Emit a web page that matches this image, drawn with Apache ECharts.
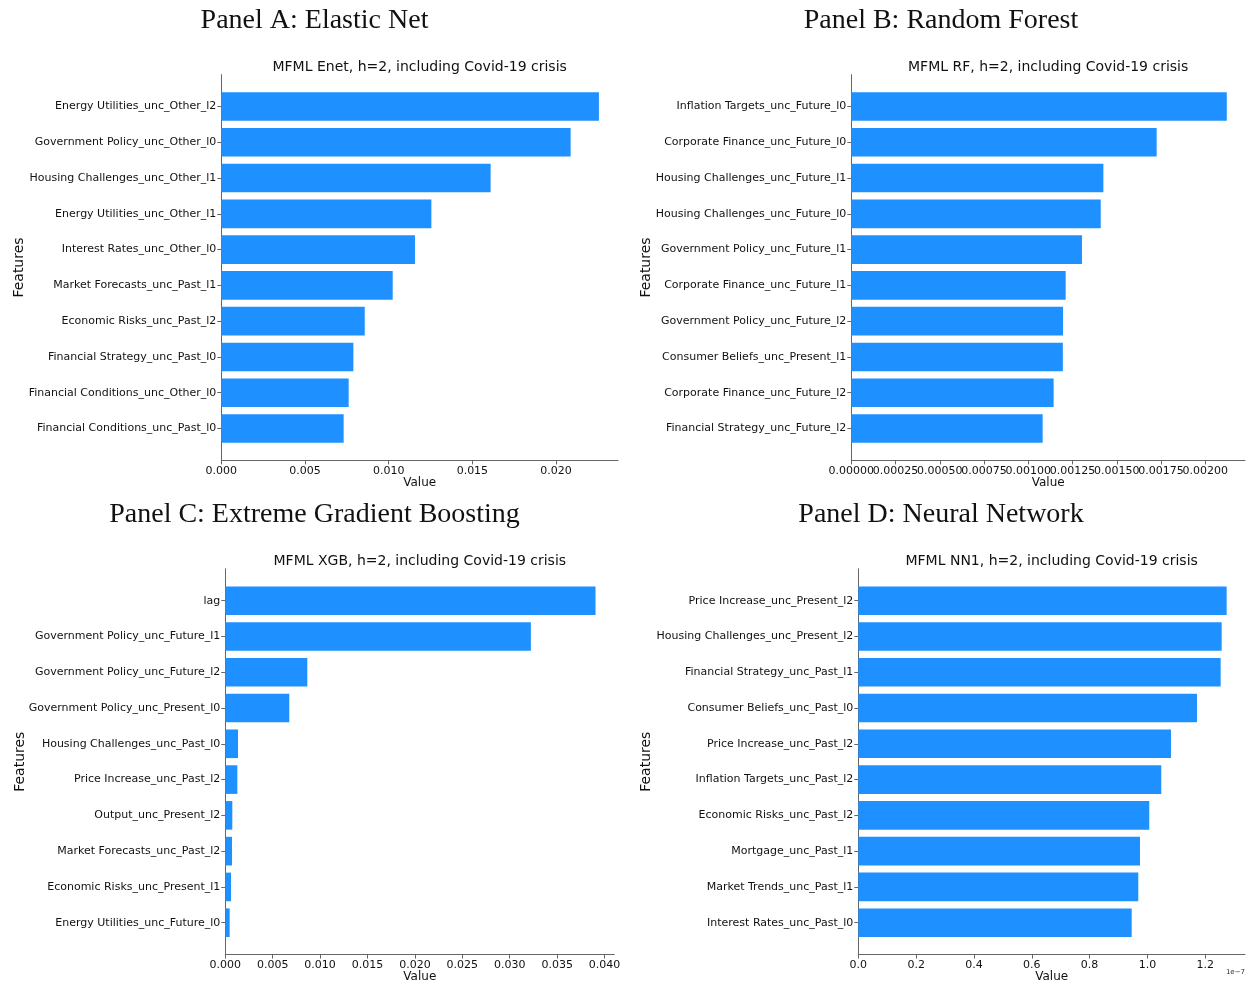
<!DOCTYPE html>
<html>
<head>
<meta charset="utf-8">
<script src="https://cdn.jsdelivr.net/npm/echarts@6/dist/echarts.min.js"></script>
<style>
  html, body { margin: 0; padding: 0; background: #fff; }
  #chart { width: 1249px; height: 985px; }
</style>
</head>
<body>
<div id="chart"></div>
<script>
// feature importances, top bar first
const enetFeatures = [
  "Energy Utilities_unc_Other_l2", "Government Policy_unc_Other_l0", "Housing Challenges_unc_Other_l1",
  "Energy Utilities_unc_Other_l1", "Interest Rates_unc_Other_l0", "Market Forecasts_unc_Past_l1",
  "Economic Risks_unc_Past_l2", "Financial Strategy_unc_Past_l0", "Financial Conditions_unc_Other_l0",
  "Financial Conditions_unc_Past_l0",
];
const enetValues = [0.02256, 0.02087, 0.01609, 0.01255, 0.01157, 0.01024, 0.00857, 0.00789, 0.00761, 0.00731];
const enetTicks = [0, 0.005, 0.01, 0.015, 0.02];

const rfFeatures = [
  "Inflation Targets_unc_Future_l0", "Corporate Finance_unc_Future_l0", "Housing Challenges_unc_Future_l1",
  "Housing Challenges_unc_Future_l0", "Government Policy_unc_Future_l1", "Corporate Finance_unc_Future_l1",
  "Government Policy_unc_Future_l2", "Consumer Beliefs_unc_Present_l1", "Corporate Finance_unc_Future_l2",
  "Financial Strategy_unc_Future_l2",
];
const rfValues = [0.002121, 0.001725, 0.001424, 0.001409, 0.001303, 0.001211, 0.001196, 0.001195, 0.001143, 0.001081];
const rfTicks = [0, 0.00025, 0.0005, 0.00075, 0.001, 0.00125, 0.0015, 0.00175, 0.002];

const xgbFeatures = [
  "lag", "Government Policy_unc_Future_l1", "Government Policy_unc_Future_l2",
  "Government Policy_unc_Present_l0", "Housing Challenges_unc_Past_l0", "Price Increase_unc_Past_l2",
  "Output_unc_Present_l2", "Market Forecasts_unc_Past_l2", "Economic Risks_unc_Present_l1",
  "Energy Utilities_unc_Future_l0",
];
const xgbValues = [0.03905, 0.03223, 0.00865, 0.00675, 0.00134, 0.00127, 0.00074, 0.00071, 0.0006, 0.00046];
const xgbTicks = [0, 0.005, 0.01, 0.015, 0.02, 0.025, 0.03, 0.035, 0.04];

const nnFeatures = [
  "Price Increase_unc_Present_l2", "Housing Challenges_unc_Present_l2", "Financial Strategy_unc_Past_l1",
  "Consumer Beliefs_unc_Past_l0", "Price Increase_unc_Past_l2", "Inflation Targets_unc_Past_l2",
  "Economic Risks_unc_Past_l2", "Mortgage_unc_Past_l1", "Market Trends_unc_Past_l1",
  "Interest Rates_unc_Past_l0",
];
// in units of 1e-7
const nnValues = [1.274, 1.2567, 1.2532, 1.1713, 1.0814, 1.0478, 1.0063, 0.9742, 0.9683, 0.9455];
const nnTicks = [0, 0.2, 0.4, 0.6, 0.8, 1.0, 1.2];

const BAR = "#1e90ff";
const SPINE = "#666666";
const TEXT = "#111111";
const SANS = "DejaVu Sans";
const ROW2 = 494.2;

const panels = [
  { heading: "Panel A: Elastic Net", subtitle: "MFML Enet, h=2, including Covid-19 crisis",
    features: enetFeatures, values: enetValues, ticks: enetTicks, max: 0.0237, digits: 3,
    left: 221.3, width: 396.7, top: 74.6, headX: 314.5, nameGap: 195 },
  { heading: "Panel B: Random Forest", subtitle: "MFML RF, h=2, including Covid-19 crisis",
    features: rfFeatures, values: rfValues, ticks: rfTicks, max: 0.002224, digits: 5,
    left: 851.3, width: 393.7, top: 74.6, headX: 941, nameGap: 198 },
  { heading: "Panel C: Extreme Gradient Boosting", subtitle: "MFML XGB, h=2, including Covid-19 crisis",
    features: xgbFeatures, values: xgbValues, ticks: xgbTicks, max: 0.04103, digits: 3,
    left: 225.3, width: 389, top: 74.6 + ROW2, headX: 314.5, nameGap: 198 },
  { heading: "Panel D: Neural Network", subtitle: "MFML NN1, h=2, including Covid-19 crisis",
    features: nnFeatures, values: nnValues, ticks: nnTicks, max: 1.3374, digits: 1,
    left: 858.3, width: 386.7, top: 74.6 + ROW2, headX: 941, nameGap: 205 },
];

const BAND_AREA = 357.8; // 10 category bands
const PAD = 14;          // empty space above / below the bars

const grid = [], xAxis = [], yAxis = [], series = [], title = [];

panels.forEach((p, i) => {
  const frame = 2 * i, bars = 2 * i + 1;
  // labels are split over two axes so echarts does not drop overlapping ones (panel B)
  const evenTicks = p.ticks.filter((_, k) => k % 2 === 0);
  const oddTicks = p.ticks.filter((_, k) => k % 2 === 1);
  const tickLabel = { formatter: (v) => v.toFixed(p.digits), hideOverlap: false,
    fontFamily: SANS, fontSize: 11, color: TEXT, margin: 5 };

  // frame grid: carries the spines, x ticks and axis names
  grid.push({ left: p.left, top: p.top, width: p.width, height: BAND_AREA + 2 * PAD,
    containLabel: false, outerBoundsMode: "none" });
  // bar grid: the category bands
  grid.push({ left: p.left, top: p.top + PAD, width: p.width, height: BAND_AREA,
    containLabel: false, outerBoundsMode: "none" });

  xAxis.push({
    gridIndex: frame, type: "value", min: 0, max: p.max,
    axisLine: { show: true, lineStyle: { color: SPINE, width: 1 } },
    axisTick: { show: true, length: 4, customValues: p.ticks, lineStyle: { color: SPINE } },
    axisLabel: Object.assign({ customValues: evenTicks }, tickLabel),
    splitLine: { show: false },
    name: "Value", nameLocation: "middle", nameGap: 16, nameMoveOverlap: false,
    nameTextStyle: { fontFamily: SANS, fontSize: 12, color: TEXT },
  });
  yAxis.push({
    gridIndex: frame, type: "value", min: 0, max: 1,
    axisLine: { show: true, lineStyle: { color: SPINE, width: 1 } },
    axisTick: { show: false }, axisLabel: { show: false }, splitLine: { show: false },
    name: "Features", nameLocation: "middle", nameGap: p.nameGap, nameMoveOverlap: false,
    nameTextStyle: { fontFamily: SANS, fontSize: 14, color: TEXT },
  });

  xAxis.push({
    gridIndex: bars, type: "value", min: 0, max: p.max, offset: PAD,
    axisLine: { show: false }, axisTick: { show: false }, splitLine: { show: false },
    axisLabel: Object.assign({ customValues: oddTicks, show: oddTicks.length > 0 }, tickLabel),
  });
  yAxis.push({
    gridIndex: bars, type: "category", data: p.features, inverse: true,
    axisLine: { show: false },
    axisTick: { show: true, alignWithLabel: true, length: 4, lineStyle: { color: SPINE } },
    axisLabel: { fontFamily: SANS, fontSize: 11, color: TEXT, margin: 5, interval: 0,
      padding: [3, 0, 0, 0] },
    splitLine: { show: false },
  });

  series.push({
    type: "bar", xAxisIndex: bars, yAxisIndex: bars, data: p.values,
    barWidth: "80%", itemStyle: { color: BAR }, silent: true,
  });

  title.push({
    text: p.heading, left: p.headX, textAlign: "center", top: p.top - 68, padding: 0,
    textStyle: { fontFamily: "Liberation Serif", fontSize: 28, fontWeight: "normal", color: TEXT },
  });
  title.push({
    text: p.subtitle, left: p.left + p.width / 2, textAlign: "center", top: p.top - 14, padding: 0,
    textStyle: { fontFamily: SANS, fontSize: 14, fontWeight: "normal", color: TEXT },
  });
});

// offset text of the neural network axis
title.push({
  text: "1e\u22127", left: 1245, textAlign: "right", top: 969, padding: 0,
  textStyle: { fontFamily: SANS, fontSize: 7, fontWeight: "normal", color: "#333" },
});

const chart = echarts.init(document.getElementById("chart"));
chart.setOption({
  animation: false,
  backgroundColor: "#ffffff",
  title,
  grid,
  xAxis,
  yAxis,
  series,
});
</script>
</body>
</html>
